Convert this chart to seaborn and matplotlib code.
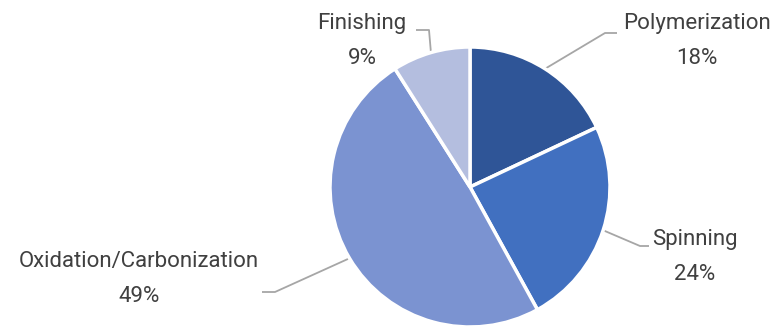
import numpy as np
import matplotlib
matplotlib.use("Agg")
import matplotlib.pyplot as plt
import seaborn as sns

categories = ["Polymerization", "Spinning", "Oxidation/Carbonization", "Finishing"]
values = [18, 24, 49, 9]
pct_labels = ["18%", "24%", "49%", "9%"]
colors = ["#2F5597", "#4170C0", "#7B93D1", "#B4BEDF"]

sns.set_theme(style="white")
plt.rcParams['font.family'] = ['Roboto', 'DejaVu Sans']

W, H = 777, 327
fig = plt.figure(figsize=(W / 100, H / 100), dpi=100)
ax = fig.add_axes([0, 0, 1, 1])

cx, cy, r = 470, H - 187, 140
wedges, _ = ax.pie(values, colors=colors, startangle=90, counterclock=False,
                   center=(cx, cy), radius=r, frame=True,
                   wedgeprops=dict(edgecolor="white", linewidth=2.5))
ax.set_xlim(0, W)
ax.set_ylim(0, H)
ax.set_aspect("equal")
ax.axis("off")

# label placements (pixel coords from top-left): name center, elbow, end
label_pos = {
    "Polymerization": ((697, 23), (605, 33), (617, 33)),
    "Spinning": ((695, 240), (640, 246), (649, 246)),
    "Oxidation/Carbonization": ((139, 262), (275, 292), (262, 292)),
    "Finishing": ((362, 23), (429, 30), (416, 30)),
}
txtcol = "#404040"
for w, cat, pct in zip(wedges, categories, pct_labels):
    ang = np.deg2rad((w.theta1 + w.theta2) / 2)
    sx, sy = cx + r * np.cos(ang), cy + r * np.sin(ang)
    (tx, ty), (ex, ey), (fx, fy) = label_pos[cat]
    ax.plot([sx, ex, fx], [sy, H - ey, H - fy], color="#A6A6A6", lw=1.3,
            solid_capstyle="butt", zorder=0)
    ax.text(tx, H - ty, cat, ha="center", va="center", fontsize=16,
            color=txtcol)
    ax.text(tx, H - ty - 35, pct, ha="center", va="center", fontsize=16,
            color=txtcol)

fig.savefig("out.png", dpi=100, facecolor="white")
